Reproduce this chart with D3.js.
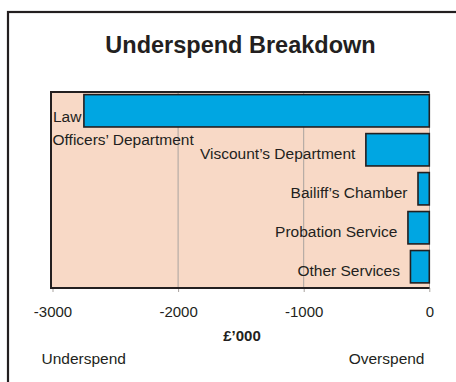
<!DOCTYPE html>
<html>
<head>
<meta charset="utf-8">
<script src="https://cdn.jsdelivr.net/npm/d3@7"></script>
<style>
  html, body { margin: 0; padding: 0; background: #fff; overflow: hidden; }
  svg { display: block; font-family: Arial, "Liberation Sans", Helvetica, sans-serif; }
</style>
</head>
<body>
<svg id="chart" width="456" height="382"></svg>
<script>
// Underspend by department, in £'000 (negative = underspend)
const categories = [
  "Law Officers' Department",
  "Viscount's Department",
  "Bailiff's Chamber",
  "Probation Service",
  "Other Services"
];
const values = [-2750, -505, -90, -170, -150];
const tickValues = [-3000, -2000, -1000, 0];

const svg = d3.select("#chart");
const ink = "#231f20";

// outer frame (runs past the right and bottom edges)
svg.append("rect")
  .attr("x", 8).attr("y", 12)
  .attr("width", 470).attr("height", 390)
  .attr("fill", "#fff").attr("stroke", ink).attr("stroke-width", 2.2);

svg.append("text")
  .attr("x", 240.5).attr("y", 53)
  .attr("text-anchor", "middle")
  .attr("font-size", 23.5).attr("font-weight", "bold")
  .attr("fill", ink)
  .text("Underspend Breakdown");

const plot = { left: 51, right: 429.5, top: 92, bottom: 288 };

const x = d3.scaleLinear().domain([-3000, 0]).range([52.5, 429.3]);
const y = d3.scaleBand().domain(categories)
  .range([91.5, 286]).paddingInner(0.17).paddingOuter(0.08);

// plot background
svg.append("rect")
  .attr("x", plot.left).attr("y", plot.top)
  .attr("width", plot.right - plot.left).attr("height", plot.bottom - plot.top)
  .attr("fill", "#f8d9c6");

// gridlines
svg.append("g")
  .selectAll("line")
  .data(tickValues.slice(1, -1))
  .join("line")
  .attr("x1", d => x(d)).attr("x2", d => x(d))
  .attr("y1", plot.top).attr("y2", plot.bottom)
  .attr("stroke", "#a9a39f").attr("stroke-width", 1);

// right edge of plot area
svg.append("line")
  .attr("x1", plot.right).attr("x2", plot.right)
  .attr("y1", plot.top).attr("y2", plot.bottom)
  .attr("stroke", "#a9a39f").attr("stroke-width", 1);

// x axis
const xAxis = d3.axisBottom(x).tickValues(tickValues).tickSize(4).tickPadding(14)
  .tickFormat(d => String(d));
const gx = svg.append("g").attr("transform", `translate(0,${plot.bottom})`).call(xAxis);
gx.select(".domain").remove();
gx.selectAll(".tick line").attr("stroke", "#a9a39f");
gx.selectAll(".tick text")
  .attr("font-size", 15).attr("fill", ink)
  .attr("font-family", "Arial, 'Liberation Sans', sans-serif");

// bars
svg.append("g")
  .selectAll("rect")
  .data(values)
  .join("rect")
  .attr("x", d => x(d))
  .attr("y", (d, i) => y(categories[i]))
  .attr("width", d => x(0) - x(d))
  .attr("height", y.bandwidth())
  .attr("fill", "#00a6e2")
  .attr("stroke", ink).attr("stroke-width", 1.6);

// plot border: top, left, bottom
svg.append("path")
  .attr("d", `M${plot.right},${plot.top}H${plot.left}V${plot.bottom}H${plot.right}`)
  .attr("fill", "none").attr("stroke", ink).attr("stroke-width", 2);

// category labels
const labelG = svg.append("g").attr("font-size", 15.5).attr("fill", ink);
categories.forEach((c, i) => {
  const cy = y(c) + y.bandwidth() / 2;
  if (i === 0) {
    // first label does not fit left of its bar, so it wraps
    labelG.append("text")
      .attr("x", x(values[i]) - 2.5).attr("y", cy + 11)
      .attr("text-anchor", "end").text("Law");
    labelG.append("text")
      .attr("x", plot.left + 1.5).attr("y", cy + 34)
      .text("Officers\u2019 Department");
  } else {
    labelG.append("text")
      .attr("x", x(values[i]) - 10.5).attr("y", cy + 9.5)
      .attr("text-anchor", "end")
      .text(c.replace("'", "\u2019"));
  }
});

// axis captions
svg.append("text")
  .attr("x", 242).attr("y", 340.7)
  .attr("text-anchor", "middle")
  .attr("font-size", 15).attr("font-weight", "bold").attr("fill", ink)
  .text("£\u2019000");
svg.append("text")
  .attr("x", 41.5).attr("y", 364)
  .attr("font-size", 15.5).attr("fill", ink)
  .text("Underspend");
svg.append("text")
  .attr("x", 424.5).attr("y", 364)
  .attr("text-anchor", "end")
  .attr("font-size", 15.5).attr("fill", ink)
  .text("Overspend");
</script>
</body>
</html>
